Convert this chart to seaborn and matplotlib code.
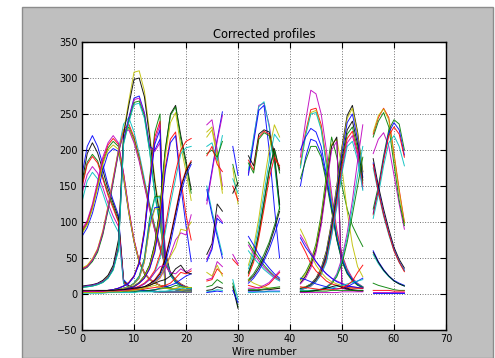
import matplotlib
matplotlib.use("Agg")
import matplotlib.pyplot as plt
from matplotlib.patches import Rectangle
import pandas as pd
import seaborn as sns

# ---- wire numbers of each contiguous block of read-out wires ----
seg1_wires = [0, 1, 2, 3, 4, 5, 6, 7, 8, 9, 10, 11, 12, 13, 14, 15, 16, 17, 18, 19, 20, 21]
seg2_wires = [24, 25, 26, 27]
seg3_wires = [29, 30]
seg4_wires = [32, 33, 34, 35, 36, 37, 38]
seg5_wires = [42, 43, 44, 45, 46, 47, 48, 49, 50, 51, 52, 53, 54]
seg6_wires = [56, 57, 58, 59, 60, 61, 62]

# ---- corrected profile values per block ----
seg1_profiles = [
    [165, 205, 220, 205, 180, 152, 130, 110, 20, 12, 8, 6, 5, 4, 4, 3, 3, 3, 3, 3, 3, 3],
    [155, 195, 210, 196, 172, 146, 126, 106, 18, 11, 8, 6, 5, 4, 4, 3, 3, 3, 3, 3, 3, 3],
    [152, 183, 194, 185, 163, 140, 122, 102, 17, 10, 7, 6, 5, 4, 3, 3, 3, 3, 3, 3, 3, 3],
    [148, 180, 191, 182, 160, 137, 119, 100, 16, 10, 7, 6, 5, 4, 3, 3, 3, 3, 3, 3, 3, 3],
    [140, 166, 177, 168, 148, 126, 108, 94, 15, 10, 7, 5, 4, 4, 3, 3, 3, 3, 3, 3, 3, 3],
    [128, 157, 169, 160, 140, 118, 100, 86, 14, 9, 6, 5, 4, 4, 3, 3, 3, 3, 3, 3, 3, 3],
    [80, 92, 112, 140, 172, 195, 202, 198, 160, 112, 72, 44, 28, 20, 15, 12, 10, 8, 7, 6, 6, 5],
    [86, 98, 120, 150, 182, 203, 212, 205, 165, 115, 74, 45, 29, 20, 15, 12, 10, 8, 7, 6, 6, 5],
    [88, 100, 122, 153, 186, 207, 216, 208, 167, 116, 75, 46, 29, 21, 16, 12, 10, 8, 7, 6, 6, 5],
    [90, 102, 125, 156, 190, 210, 220, 210, 168, 118, 76, 46, 30, 21, 16, 12, 10, 8, 7, 6, 6, 5],
    [84, 96, 118, 148, 180, 200, 207, 201, 162, 113, 73, 44, 28, 20, 15, 12, 10, 8, 7, 6, 6, 5],
    [34, 38, 46, 60, 84, 118, 158, 200, 236, 245, 225, 195, 160, 125, 95, 68, 45, 30, 20, 14, 10, 8],
    [35, 39, 48, 62, 86, 120, 160, 198, 228, 236, 218, 190, 155, 122, 92, 66, 44, 29, 20, 14, 10, 8],
    [33, 37, 45, 58, 82, 116, 155, 195, 225, 232, 215, 188, 153, 120, 90, 64, 43, 28, 19, 13, 10, 8],
    [36, 40, 49, 63, 88, 122, 162, 200, 226, 230, 212, 186, 152, 118, 89, 63, 42, 28, 19, 13, 10, 8],
    [34, 38, 47, 61, 85, 119, 158, 197, 224, 228, 210, 184, 150, 117, 88, 62, 41, 27, 18, 13, 10, 8],
    [10, 11, 12, 14, 18, 25, 38, 70, 225, 268, 308, 310, 282, 225, 160, 110, 60, 30, 18, 12, 9, 7],
    [11, 12, 13, 15, 19, 26, 40, 75, 222, 262, 298, 300, 274, 218, 155, 105, 58, 29, 17, 12, 9, 7],
    [10, 11, 12, 14, 17, 23, 36, 65, 215, 245, 272, 275, 252, 205, 200, 215, 55, 28, 17, 12, 9, 7],
    [10, 11, 12, 14, 17, 23, 35, 64, 212, 242, 270, 272, 250, 203, 198, 210, 54, 27, 16, 11, 9, 7],
    [9, 10, 11, 13, 16, 22, 34, 62, 210, 240, 266, 268, 247, 200, 140, 96, 52, 26, 16, 11, 9, 7],
    [9, 10, 11, 13, 16, 22, 33, 60, 208, 238, 263, 265, 244, 198, 138, 94, 51, 26, 16, 11, 9, 7],
    [3, 3, 3, 4, 4, 5, 6, 8, 11, 16, 25, 45, 90, 160, 225, 250, 12, 8, 6, 5, 4, 4],
    [3, 3, 3, 4, 4, 5, 6, 8, 11, 16, 25, 44, 88, 156, 218, 240, 11, 8, 6, 5, 4, 4],
    [3, 3, 3, 4, 4, 5, 6, 8, 11, 15, 24, 43, 86, 152, 212, 235, 10, 8, 6, 5, 4, 4],
    [3, 3, 3, 4, 4, 5, 6, 8, 11, 15, 24, 42, 84, 150, 208, 228, 10, 7, 6, 5, 4, 4],
    [3, 3, 3, 3, 4, 4, 5, 6, 8, 10, 15, 25, 50, 105, 135, 136, 10, 8, 6, 5, 4, 4],
    [3, 3, 3, 3, 4, 4, 5, 6, 8, 10, 15, 24, 48, 100, 133, 134, 9, 8, 6, 5, 4, 4],
    [3, 3, 3, 3, 4, 4, 5, 6, 8, 10, 14, 22, 45, 95, 120, 121, 8, 7, 6, 5, 4, 4],
    [3, 3, 3, 3, 4, 4, 5, 6, 8, 10, 14, 22, 44, 92, 118, 119, 8, 7, 6, 5, 4, 4],
    [3, 3, 3, 3, 3, 4, 4, 5, 6, 8, 11, 16, 25, 40, 70, 120, 200, 250, 262, 220, 185, 145],
    [3, 3, 3, 3, 3, 4, 4, 5, 6, 8, 11, 16, 25, 40, 68, 118, 198, 248, 260, 215, 180, 140],
    [3, 3, 3, 3, 3, 4, 4, 5, 6, 8, 11, 16, 24, 38, 65, 112, 190, 238, 252, 205, 170, 130],
    [3, 3, 3, 3, 3, 4, 4, 5, 6, 8, 10, 15, 22, 35, 60, 105, 175, 215, 225, 160, 110, 75],
    [3, 3, 3, 3, 3, 4, 4, 5, 6, 8, 10, 15, 22, 35, 58, 100, 170, 210, 220, 150, 95, 45],
    [3, 3, 3, 3, 3, 3, 3, 4, 4, 5, 6, 8, 10, 14, 20, 30, 50, 80, 115, 150, 172, 185],
    [3, 3, 3, 3, 3, 3, 3, 4, 4, 5, 6, 8, 10, 14, 19, 28, 48, 78, 112, 147, 170, 183],
    [3, 3, 3, 3, 3, 3, 3, 4, 4, 5, 6, 7, 9, 12, 17, 25, 42, 70, 105, 140, 165, 180],
    [3, 3, 3, 3, 3, 3, 4, 4, 5, 6, 8, 10, 14, 20, 30, 50, 85, 125, 160, 195, 203, 205],
    [3, 3, 3, 3, 3, 3, 3, 4, 4, 5, 6, 7, 9, 12, 16, 22, 35, 55, 75, 85, 82, 110],
    [3, 3, 3, 3, 3, 3, 3, 4, 4, 5, 6, 7, 9, 12, 16, 23, 38, 52, 65, 90, 88, 100],
    [3, 3, 3, 3, 3, 3, 4, 4, 5, 6, 8, 11, 15, 22, 33, 55, 92, 135, 170, 200, 212, 216],
    [3, 3, 3, 3, 3, 3, 3, 3, 3, 4, 4, 4, 5, 5, 6, 8, 10, 12, 15, 20, 25, 28],
    [2, 2, 2, 2, 2, 2, 3, 3, 3, 3, 3, 4, 4, 5, 6, 7, 8, 9, 12, 10, 9, 9],
    [4, 4, 4, 4, 4, 4, 4, 5, 5, 5, 6, 6, 7, 8, 9, 10, 12, 15, 22, 30, 28, 32],
    [3, 3, 3, 3, 3, 3, 4, 4, 5, 6, 8, 10, 14, 20, 30, 38, 40, 30, 28, 35, 30, 35],
    [5, 5, 5, 5, 5, 5, 5, 6, 6, 7, 8, 9, 10, 12, 15, 18, 20, 25, 35, 40, 30, 28],
    [1, 1, 1, 1, 1, 2, 2, 2, 2, 2, 2, 3, 3, 3, 3, 4, 4, 5, 6, 8, 7, 8],
    [2, 2, 2, 2, 2, 3, 3, 3, 4, 4, 5, 6, 8, 10, 12, 9, 8, 7, 8, 10, 9, 9],
]
seg2_profiles = [
    [235, 242, 200, 150], [225, 232, 195, 145], [218, 228, 190, 140],
    [130, 172, 215, 253], [125, 168, 212, 248],
    [205, 210, 185, 220], [195, 200, 190, 212], [192, 205, 180, 170],
    [150, 115, 85, 55], [145, 110, 80, 50],
    [55, 70, 125, 115], [48, 65, 110, 100], [45, 62, 105, 98],
    [20, 22, 45, 38], [18, 20, 35, 28], [10, 12, 20, 15], [5, 6, 10, 8],
    [30, 25, 40, 25], [3, 4, 6, 5], [2, 3, 4, 3],
]
seg3_profiles = [
    [205, 165], [180, 150], [175, 125], [160, 140], [150, 130], [140, 155],
    [55, 42], [48, 40], [15, -18], [10, -20], [5, -12], [20, -8],
]
seg4_profiles = [
    [168, 215, 262, 265, 235, 185, 125],
    [172, 218, 260, 267, 232, 180, 118],
    [165, 210, 255, 262, 200, 120, 50],
    [192, 178, 222, 228, 225, 196, 124],
    [186, 172, 218, 226, 222, 190, 175],
    [182, 168, 215, 224, 220, 188, 118],
    [40, 65, 105, 155, 200, 235, 218],
    [35, 58, 95, 140, 185, 222, 212],
    [30, 50, 85, 128, 172, 202, 172],
    [28, 48, 82, 125, 170, 200, 168],
    [25, 44, 78, 118, 160, 190, 178],
    [80, 68, 55, 45, 36, 28, 22],
    [72, 60, 50, 40, 32, 25, 20],
    [68, 56, 46, 37, 30, 24, 19],
    [60, 50, 42, 34, 28, 22, 18],
    [20, 28, 40, 55, 72, 95, 120],
    [18, 25, 36, 50, 68, 90, 115],
    [15, 22, 32, 46, 62, 82, 105],
    [12, 10, 8, 10, 14, 22, 30],
    [20, 15, 12, 10, 8, 8, 8],
    [8, 8, 9, 12, 16, 24, 32],
    [5, 5, 5, 6, 6, 7, 8],
    [3, 3, 3, 3, 4, 4, 4],
    [2, 2, 3, 3, 3, 3, 3],
    [6, 6, 6, 7, 8, 9, 10],
]
seg5_profiles = [
    [190, 240, 283, 278, 250, 200, 140, 90, 55, 35, 22, 15, 10],
    [180, 225, 256, 258, 235, 185, 130, 85, 52, 33, 21, 14, 10],
    [178, 222, 252, 255, 230, 180, 128, 82, 50, 32, 20, 14, 10],
    [175, 220, 250, 252, 228, 178, 126, 80, 50, 32, 20, 14, 10],
    [200, 218, 230, 225, 205, 165, 120, 78, 48, 30, 20, 13, 9],
    [150, 190, 215, 212, 195, 160, 118, 76, 46, 29, 19, 13, 9],
    [160, 185, 205, 205, 190, 155, 115, 75, 45, 28, 18, 12, 9],
    [20, 30, 45, 70, 110, 165, 218, 190, 150, 118, 95, 80, 66],
    [18, 28, 42, 66, 105, 158, 208, 215, 175, 115, 68, 38, 24],
    [15, 25, 40, 62, 100, 152, 205, 218, 10, 8, 6, 5, 5],
    [14, 22, 36, 58, 95, 148, 200, 212, 8, 6, 5, 5, 4],
    [8, 10, 14, 22, 36, 60, 100, 150, 205, 248, 262, 225, 170],
    [8, 10, 14, 21, 35, 58, 98, 148, 202, 244, 258, 222, 168],
    [7, 9, 13, 20, 33, 55, 94, 142, 196, 238, 250, 215, 162],
    [7, 9, 12, 19, 31, 52, 90, 136, 188, 228, 240, 208, 158],
    [7, 9, 12, 19, 30, 50, 88, 132, 182, 222, 232, 202, 154],
    [6, 8, 11, 18, 29, 48, 85, 128, 178, 216, 226, 196, 150],
    [6, 8, 11, 17, 28, 46, 82, 124, 172, 210, 220, 192, 146],
    [6, 8, 11, 17, 27, 44, 80, 120, 168, 205, 212, 186, 144],
    [3, 3, 4, 5, 7, 10, 16, 28, 50, 85, 130, 185, 235],
    [3, 3, 4, 5, 7, 10, 15, 26, 46, 78, 120, 165, 205],
    [3, 3, 4, 5, 6, 9, 14, 24, 42, 72, 110, 150, 190],
    [90, 75, 55, 40, 30, 22, 17, 14, 12, 10, 9, 8, 8],
    [82, 70, 58, 45, 35, 28, 22, 18, 15, 12, 10, 9, 8],
    [78, 65, 55, 45, 36, 28, 22, 17, 14, 11, 10, 9, 8],
    [72, 58, 42, 32, 25, 18, 14, 12, 10, 9, 8, 8, 8],
    [22, 20, 17, 14, 12, 10, 8, 7, 8, 10, 14, 18, 22],
    [5, 5, 5, 6, 6, 7, 8, 10, 12, 14, 16, 18, 20],
    [3, 3, 4, 5, 6, 8, 10, 12, 9, 7, 5, 4, 4],
    [10, 9, 8, 7, 6, 6, 6, 7, 8, 12, 18, 30, 40],
    [4, 4, 4, 4, 4, 4, 5, 5, 5, 5, 5, 5, 5],
    [2, 2, 2, 2, 2, 2, 2, 2, 3, 3, 3, 3, 3],
]
seg6_profiles = [
    [222, 245, 258, 245, 195, 145, 100],
    [225, 248, 257, 242, 192, 142, 98],
    [195, 215, 224, 205, 165, 125, 90],
    [218, 240, 252, 232, 180, 130, 95],
    [118, 150, 192, 228, 242, 236, 200],
    [112, 146, 188, 224, 238, 228, 193],
    [110, 144, 185, 220, 232, 222, 190],
    [105, 138, 178, 210, 220, 205, 178],
    [188, 150, 118, 90, 65, 48, 36],
    [182, 145, 112, 85, 62, 45, 33],
    [175, 140, 108, 82, 60, 44, 32],
    [180, 142, 110, 84, 60, 44, 31],
    [60, 45, 34, 25, 19, 15, 12],
    [55, 42, 32, 24, 18, 14, 11],
    [58, 44, 33, 25, 18, 14, 11],
    [15, 12, 10, 8, 6, 5, 5],
    [5, 5, 5, 5, 4, 4, 4],
    [3, 3, 3, 3, 3, 3, 3],
    [2, 2, 2, 2, 2, 2, 2],
]

# colour code of each profile, block by block (classic b g r c m y k colours)
seg1_colors = "bkgrmc" "bgrmy" "crgym" "ykbmgc" "grmb" "gcby" "kgyrb" "rkbcmyr" "bgrmkcy"
seg2_colors = "myy" "bm" "cgr" "cb" "kmb" "mrgkycb"
seg3_colors = "bgycrk" "mrgkbc"
seg4_colors = "mcb" "krg" "yckgr" "bgmc" "gkb" "rymkbcg"
seg5_colors = "mrycbbg" "gykm" "kybkgrmc" "mcg" "ymbr" "bckrgm"
seg6_colors = "rymg" "gbrc" "kbcr" "bck" "grmb"

CLASSIC = {
    "b": (0.0, 0.0, 1.0), "g": (0.0, 0.5, 0.0), "r": (1.0, 0.0, 0.0),
    "c": (0.0, 0.75, 0.75), "m": (0.75, 0.0, 0.75), "y": (0.75, 0.75, 0.0),
    "k": (0.0, 0.0, 0.0),
}

blocks = [
    (seg1_wires, seg1_profiles, seg1_colors),
    (seg2_wires, seg2_profiles, seg2_colors),
    (seg3_wires, seg3_profiles, seg3_colors),
    (seg4_wires, seg4_profiles, seg4_colors),
    (seg5_wires, seg5_profiles, seg5_colors),
    (seg6_wires, seg6_profiles, seg6_colors),
]

# long-form table: one row per (profile, wire); each block drawn separately
rows = []
palette = {}
for bi, (wires, profiles, colors) in enumerate(blocks):
    for li, values in enumerate(profiles):
        key = f"{bi}-{li}"
        palette[key] = CLASSIC[colors[li % len(colors)]]
        for w, v in zip(wires, values):
            rows.append((key, w, v))
df = pd.DataFrame(rows, columns=["line", "wire", "value"])

plt.rcParams["font.family"] = ["DejaVu Sans"]

W, H = 495, 358
fig = plt.figure(figsize=(W / 100, H / 100), dpi=100, facecolor="white")
fig.add_artist(Rectangle((22 / W, 0), 471 / W, 351 / H, transform=fig.transFigure,
                         facecolor="#bfbfbf", edgecolor="#8c8c8c", lw=1.0, zorder=0))

ax = fig.add_axes([82 / W, 28 / H, 364 / W, 288 / H])
ax.set_facecolor("white")
sns.lineplot(data=df, x="wire", y="value", hue="line", palette=palette,
             estimator=None, sort=False, legend=False, linewidth=0.7,
             alpha=0.9, ax=ax)

ax.set_xlim(0, 70)
ax.set_ylim(-50, 350)
ax.set_xticks([0, 10, 20, 30, 40, 50, 60, 70])
ax.set_yticks([-50, 0, 50, 100, 150, 200, 250, 300, 350])
ax.grid(True, linestyle=":", color="0.45", linewidth=0.7)
ax.tick_params(direction="in", top=True, right=True, length=4, width=0.8,
               labelsize=7, pad=3, colors="black")
for sp in ax.spines.values():
    sp.set_linewidth(1.0)
    sp.set_color("black")

ax.set_title("Corrected profiles", fontsize=8.3, pad=3)
ax.set_xlabel("Wire number", fontsize=7.2, labelpad=2)
ax.set_ylabel("")

fig.savefig("out.png", dpi=100, facecolor=fig.get_facecolor())
